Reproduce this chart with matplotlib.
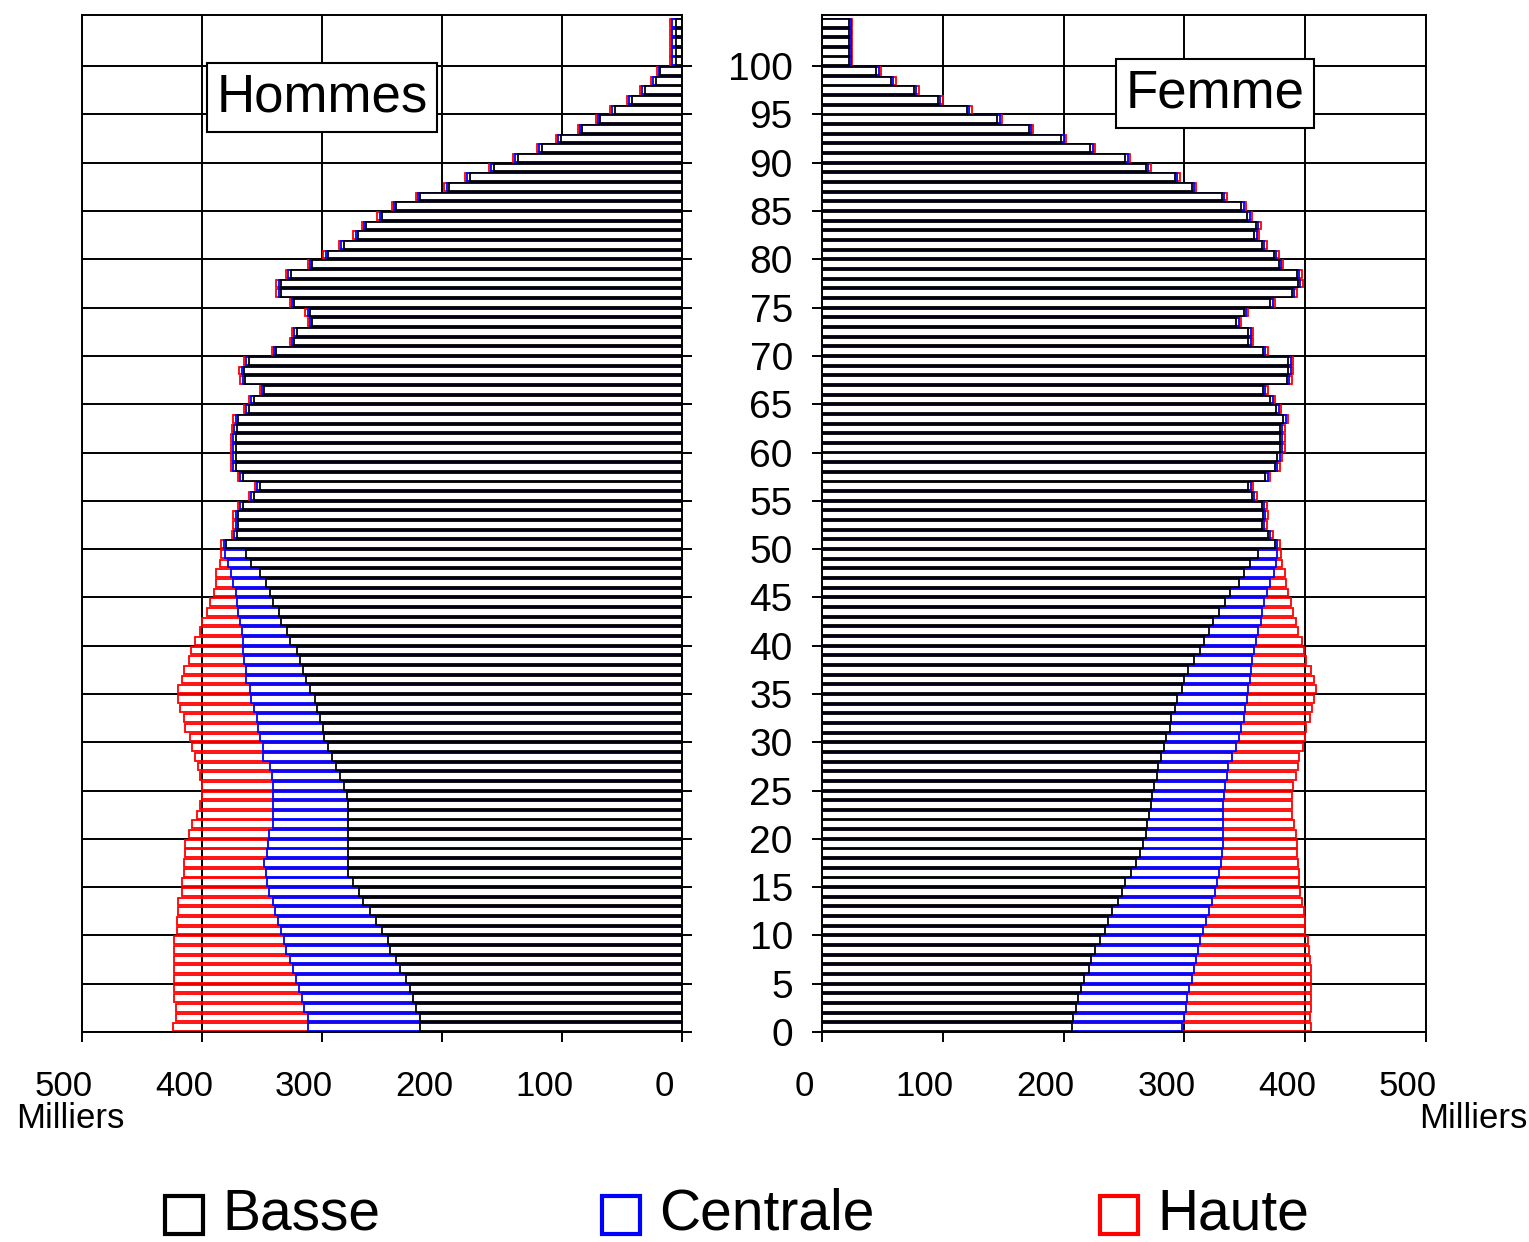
import numpy as np
import matplotlib
matplotlib.use("Agg")
import matplotlib.pyplot as plt
from matplotlib.patches import Rectangle
from matplotlib import transforms

# Population par âge (milliers), trois hypothèses
ages = np.arange(105)

men_basse = [
    218, 218, 222, 224, 227, 230, 235, 238, 243, 245,
    250, 255, 260, 266, 269, 274, 278, 278, 278, 278,
    278, 278, 278, 278, 279, 282, 285, 288, 292, 295,
    298, 299, 302, 304, 306, 310, 313, 316, 318, 321,
    327, 329, 334, 336, 341, 343, 347, 352, 359, 363,
    380, 371, 370, 370, 366, 357, 352, 366, 372, 372,
    372, 372, 371, 370, 361, 357, 348, 364, 365, 361,
    338, 323, 321, 308, 310, 323, 334, 334, 326, 308,
    295, 282, 270, 263, 250, 238, 218, 194, 177, 157,
    137, 117, 101, 83, 68, 56, 42, 31, 22, 18,
    5, 5, 5, 5, 5]
men_centrale = [
    312, 312, 315, 317, 319, 322, 324, 327, 330, 332,
    334, 337, 339, 341, 344, 346, 347, 348, 346, 345,
    344, 341, 341, 341, 341, 341, 342, 343, 349, 349,
    352, 353, 354, 357, 359, 360, 363, 363, 365, 366,
    366, 367, 368, 370, 371, 372, 374, 376, 378, 381,
    382, 373, 372, 372, 368, 359, 354, 368, 374, 374,
    374, 374, 373, 372, 363, 359, 350, 366, 367, 363,
    340, 325, 323, 310, 312, 325, 336, 336, 328, 310,
    297, 284, 272, 265, 252, 240, 220, 196, 179, 159,
    139, 119, 103, 85, 70, 58, 44, 33, 24, 19,
    8, 8, 8, 8, 8]
men_haute = [
    424, 422, 422, 423, 423, 423, 423, 423, 423, 423,
    421, 421, 420, 420, 417, 417, 415, 415, 414, 414,
    411, 408, 404, 402, 400, 400, 402, 403, 406, 408,
    410, 414, 415, 418, 420, 420, 417, 415, 411, 409,
    406, 402, 400, 396, 393, 390, 388, 388, 385, 384,
    384, 375, 374, 374, 370, 361, 356, 370, 376, 376,
    376, 376, 375, 374, 365, 361, 352, 368, 369, 365,
    342, 327, 325, 312, 314, 327, 338, 338, 330, 312,
    299, 286, 274, 267, 254, 242, 222, 198, 181, 161,
    141, 121, 105, 87, 72, 60, 46, 35, 26, 21,
    10, 10, 10, 10, 10]

women_basse = [
    207, 208, 210, 212, 214, 217, 221, 223, 226, 230,
    234, 237, 240, 245, 248, 251, 256, 260, 263, 266,
    268, 269, 271, 272, 273, 275, 277, 278, 281, 283,
    285, 288, 289, 292, 294, 298, 300, 303, 308, 313,
    316, 320, 324, 329, 334, 338, 345, 349, 354, 361,
    375, 369, 364, 365, 364, 356, 353, 367, 375, 377,
    379, 379, 379, 382, 376, 371, 365, 385, 386, 386,
    365, 353, 353, 343, 349, 371, 389, 394, 393, 378,
    374, 364, 358, 359, 352, 347, 331, 306, 292, 268,
    251, 222, 198, 171, 145, 120, 96, 76, 57, 45,
    22, 22, 22, 22, 22]
women_centrale = [
    298, 300, 301, 302, 304, 306, 308, 310, 311, 313,
    315, 318, 320, 323, 325, 327, 329, 330, 331, 332,
    332, 332, 332, 332, 333, 334, 335, 336, 339, 343,
    345, 347, 349, 350, 352, 353, 354, 355, 356, 358,
    359, 361, 363, 364, 366, 368, 371, 374, 376, 377,
    377, 371, 366, 367, 366, 358, 355, 369, 377, 379,
    381, 381, 381, 384, 378, 373, 367, 387, 388, 388,
    367, 355, 355, 345, 351, 373, 391, 396, 395, 380,
    376, 366, 360, 361, 354, 349, 333, 308, 294, 270,
    253, 224, 200, 173, 147, 122, 98, 78, 59, 47,
    24, 24, 24, 24, 24]
women_haute = [
    405, 404, 405, 405, 405, 405, 405, 404, 403, 402,
    400, 400, 399, 397, 396, 395, 395, 394, 393, 393,
    392, 391, 389, 389, 389, 390, 392, 394, 395, 398,
    400, 401, 404, 406, 407, 409, 407, 405, 401, 399,
    397, 394, 392, 390, 388, 386, 384, 383, 381, 380,
    379, 373, 368, 369, 368, 360, 357, 371, 379, 381,
    383, 383, 383, 386, 380, 375, 369, 389, 390, 390,
    369, 357, 357, 347, 353, 375, 393, 398, 397, 382,
    378, 368, 362, 363, 356, 351, 335, 310, 296, 272,
    255, 226, 202, 175, 149, 124, 100, 80, 61, 49,
    25, 25, 25, 25, 25]

x_ticks = [0, 100, 200, 300, 400, 500]
y_ticks = list(range(0, 101, 5))
series_names = ["Basse", "Centrale", "Haute"]
series_colors = ["black", "#0000ff", "#ff0000"]

W, H = 1529, 1242
SANS = ["Liberation Sans", "DejaVu Sans"]
NARROW = ["Liberation Sans Narrow", "Liberation Sans", "DejaVu Sans"]

fig = plt.figure(figsize=(W / 100, H / 100), dpi=100)
ax_h = fig.add_axes([82 / W, 1 - 1032 / H, 600 / W, 1017 / H])
ax_f = fig.add_axes([822 / W, 1 - 1032 / H, 604 / W, 1017 / H])


def draw_side(ax, basse, centrale, haute):
    y = ages + 0.5
    ax.barh(y, haute, height=0.8, facecolor="none", edgecolor=series_colors[2], lw=1.3)
    ax.barh(y, centrale, height=0.8, facecolor="white", edgecolor=series_colors[1], lw=1.3)
    ax.barh(y, basse, height=0.8, facecolor="white", edgecolor=series_colors[0], lw=1.3)
    ax.set_ylim(0, 105.3)
    ax.set_yticks(y_ticks)
    ax.set_xticks(x_ticks)
    ax.set_xticklabels([str(t) for t in x_ticks], fontsize=25, family=NARROW)
    ax.grid(True, color="black", lw=1.4)
    ax.set_axisbelow(True)
    for s in ax.spines.values():
        s.set_linewidth(1.4)
    ax.tick_params(direction="out", length=7, width=1.4)
    ax.tick_params(axis="x", pad=20)
    # labels sit a little left of their ticks in the original
    off = transforms.ScaledTranslation(-0.18, 0, fig.dpi_scale_trans)
    for lab in ax.get_xticklabels():
        lab.set_transform(lab.get_transform() + off)


# Hommes: bars grow to the left
draw_side(ax_h, men_basse, men_centrale, men_haute)
ax_h.set_xlim(500, 0)
ax_h.yaxis.tick_right()
ax_h.tick_params(axis="y", labelright=False, labelleft=False)

# Femmes
draw_side(ax_f, women_basse, women_centrale, women_haute)
ax_f.set_xlim(0, 500)
ax_f.set_yticklabels([str(t) for t in y_ticks], fontsize=28, family=SANS)
ax_f.tick_params(axis="y", pad=14)

# panel titles
box = dict(boxstyle="square,pad=0.18", fc="white", ec="black", lw=1.5)
fig.text(322 / W, 1 - 97 / H, "Hommes", ha="center", va="center",
         fontsize=38, family=SANS, bbox=box)
fig.text(1215 / W, 1 - 93 / H, "Femme", ha="center", va="center",
         fontsize=38, family=SANS, bbox=box)

# unit labels
fig.text(70 / W, 1 - 1118 / H, "Milliers", ha="center", va="center",
         fontsize=25, family=NARROW)
fig.text(1527 / W, 1 - 1118 / H, "Milliers", ha="right", va="center",
         fontsize=25, family=NARROW)

# legend
legend_x = [165, 602, 1100]
for name, col, x0 in zip(series_names, series_colors, legend_x):
    fig.add_artist(Rectangle((x0 / W, 1 - 1234 / H), 38 / W, 38 / H,
                             transform=fig.transFigure, fc="white", ec=col, lw=3))
    fig.text((x0 + 57) / W, 1 - 1241 / H, name, ha="left", va="bottom",
             fontsize=41, family=SANS)

fig.savefig("out.png", dpi=100)
